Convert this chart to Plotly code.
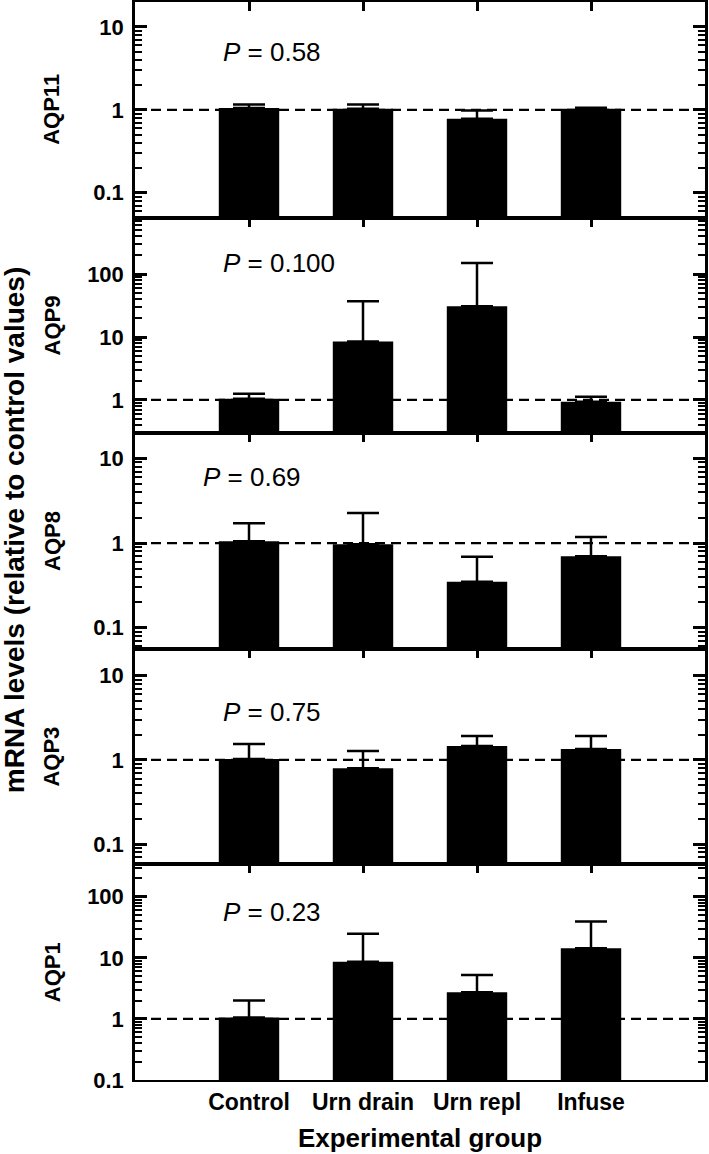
import plotly.graph_objects as go

groups = ["Control", "Urn drain", "Urn repl", "Infuse"]
genes = ["AQP11", "AQP9", "AQP8", "AQP3", "AQP1"]
p_labels = ["0.58", "0.100", "0.69", "0.75", "0.23"]

aqp11_mean = [1.05, 1.03, 0.78, 1.03]
aqp11_upper = [1.16, 1.16, 0.98, 1.06]
aqp9_mean = [1.04, 8.5, 30.8, 0.93]
aqp9_upper = [1.25, 37.0, 150.0, 1.12]
aqp8_mean = [1.05, 0.97, 0.35, 0.70]
aqp8_upper = [1.72, 2.27, 0.69, 1.18]
aqp3_mean = [1.03, 0.80, 1.47, 1.35]
aqp3_upper = [1.55, 1.28, 1.93, 1.93]
aqp1_mean = [1.06, 8.6, 2.73, 14.4]
aqp1_upper = [2.0, 24.8, 5.26, 39.4]

means = [aqp11_mean, aqp9_mean, aqp8_mean, aqp3_mean, aqp1_mean]
uppers = [aqp11_upper, aqp9_upper, aqp8_upper, aqp3_upper, aqp1_upper]
yranges = [[-1.3, 1.3], [-0.53, 2.9], [-1.25, 1.30], [-1.24, 1.32], [-1.0, 2.53]]
p_xpos = [0.150, 0.150, 0.116, 0.150, 0.150]
p_ypos = [0.769, 0.791, 0.795, 0.705, 0.78]

FONT = "Liberation Sans, Arial, sans-serif"
xpos = list(range(len(groups)))

fig = go.Figure()
layout = dict(
    width=709, height=1154,
    margin=dict(l=135, r=4, t=2, b=74, autoexpand=False),
    paper_bgcolor="white", plot_bgcolor="white",
    showlegend=False,
    font=dict(family=FONT, color="black"),
)
shapes = []
annotations = []
n = len(genes)
for i, g in enumerate(genes):
    k = "" if i == 0 else str(i + 1)
    top = 1 - i / n
    bot = 1 - (i + 1) / n
    err = [u - m for u, m in zip(uppers[i], means[i])]
    fig.add_trace(go.Bar(
        x=xpos, y=means[i], width=0.53,
        marker=dict(color="black", line=dict(width=0)),
        error_y=dict(type="data", symmetric=False, array=err,
                     arrayminus=[0] * len(err), color="black",
                     thickness=2.5, width=16),
        xaxis="x" + k, yaxis="y" + k, hoverinfo="skip",
    ))
    last = (i == n - 1)
    layout["xaxis" + k] = dict(
        domain=[0, 1], anchor="y" + k, range=[-1, 4], automargin=False,
        tickmode="array", tickvals=xpos, ticktext=groups,
        ticks="inside", ticklen=9, tickwidth=2.5, tickcolor="black",
        showline=True, linewidth=1.9, linecolor="black", mirror="ticks",
        showgrid=False, zeroline=False,
        showticklabels=last, ticklabelstandoff=0,
        tickfont=dict(family=FONT, size=23, weight="bold"),
        title=dict(text="Experimental group" if last else "",
                   font=dict(family=FONT, size=26, weight="bold"), standoff=15),
    )
    if not last:
        layout["xaxis" + k]["matches"] = "x" + str(n)
    layout["yaxis" + k] = dict(
        domain=[bot, top], anchor="x" + k, type="log", range=yranges[i],
        dtick=1, tick0=0, automargin=False,
        ticks="inside", ticklen=12, tickwidth=2.5, tickcolor="black",
        minor=dict(ticks="inside", ticklen=7, tickwidth=2, tickcolor="black", dtick="D1"),
        showline=True, linewidth=2.5, linecolor="black", mirror="ticks",
        showgrid=False, zeroline=False, ticklabelstandoff=4,
        tickfont=dict(family=FONT, size=22, weight="bold"),
    )
    shapes.append(dict(
        type="line", xref="x" + k + " domain", yref="y" + k,
        x0=0, x1=1, y0=1, y1=1, layer="below",
        line=dict(color="black", width=2.3, dash="10px,6px"),
    ))
    annotations.append(dict(
        text="<i>P</i> = " + p_labels[i], showarrow=False,
        xref="x" + k + " domain", yref="y" + k + " domain",
        x=p_xpos[i], y=p_ypos[i], xanchor="left", yanchor="middle",
        font=dict(family=FONT, size=26, color="black"),
    ))
    annotations.append(dict(
        text=g, showarrow=False, textangle=-90,
        xref="paper", yref="y" + k + " domain",
        x=(52 - 135) / 570, y=0.5, xanchor="center", yanchor="middle",
        font=dict(family=FONT, size=22, weight="bold", color="black"),
    ))

annotations.append(dict(
    text="mRNA levels (relative to control values)", showarrow=False,
    xref="paper", yref="paper", x=(14 - 135) / 570, y=0.51, textangle=-90,
    xanchor="center", yanchor="middle",
    font=dict(family=FONT, size=28, weight="bold", color="black"),
))
layout["shapes"] = shapes
layout["annotations"] = annotations
fig.update_layout(**layout)
fig.write_html("out.html", config={"displayModeBar": False},
               post_script="document.body.style.margin='0px';")
